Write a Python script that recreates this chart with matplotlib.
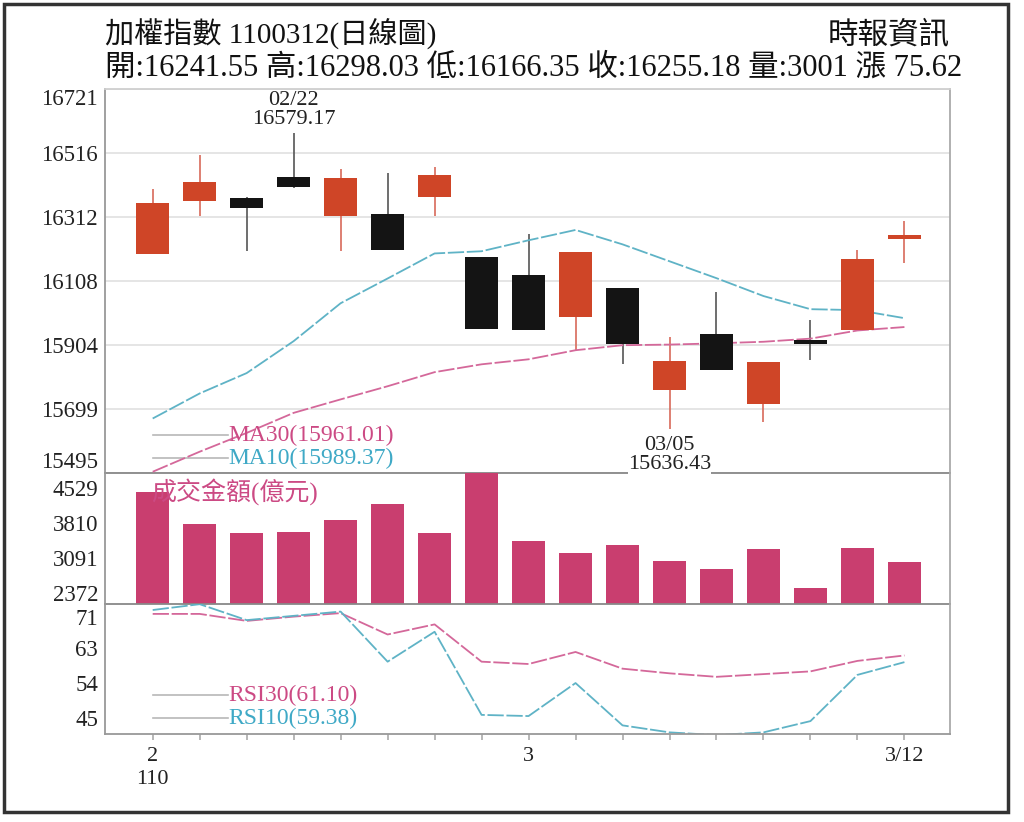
import matplotlib
matplotlib.use("Agg")
import matplotlib.pyplot as plt
from matplotlib.patches import Rectangle

plt.rcParams["font.family"] = ["Liberation Serif", "Noto Sans CJK TC", "DejaVu Sans"]

# 110/02/17 ~ 110/03/12 daily candles
opens = [16195, 16363, 16374, 16440, 16317, 16323, 16376, 16185, 16126, 15993,
         16085, 15760, 15940, 15715, 15919, 15951, 16241.55]
highs = [16402, 16509, 16376, 16579.17, 16465, 16452, 16471, 16185, 16257, 16202,
         16085, 15930, 16073, 15850, 15985, 16208, 16298.03]
lows = [16195, 16314, 16204, 16406, 16204, 16208, 16317, 15956, 15951, 15887,
        15842, 15636.43, 15823, 15658, 15857, 15951, 16166.35]
closes = [16357, 16425, 16340, 16408, 16438, 16208, 16447, 15956, 15951, 16202,
          15906, 15851, 15823, 15850, 15907, 16179.56, 16255.18]

ma10 = [15669, 15749, 15814, 15916, 16037, 16116, 16196, 16203, 16238, 16271,
        16225, 16171, 16117, 16060, 16018, 16015, 15989.37]
ma30 = [15499, 15563, 15623, 15687, 15730, 15772, 15817, 15842, 15858, 15887,
        15903, 15905, 15909, 15914, 15924, 15950, 15961.01]

# 成交金額(億元)
volume = [4448, 3793, 3609, 3629, 3869, 4196, 3609, 4900, 3445, 3187,
          3357, 3036, 2860, 3269, 2484, 3290, 3001]

rsi30 = [71.8, 71.8, 70.0, 71.1, 72.0, 66.5, 69.1, 59.5, 58.9, 62.0,
         57.7, 56.5, 55.6, 56.3, 57.0, 59.7, 61.10]
rsi10 = [72.8, 74.3, 70.2, 71.3, 72.4, 59.5, 67.2, 45.8, 45.5, 54.0,
         43.1, 41.3, 40.6, 41.3, 44.2, 56.1, 59.38]

price_ticks = [15495, 15699, 15904, 16108, 16312, 16516, 16721]
vol_ticks = [2372, 3091, 3810, 4529]
rsi_ticks = [45, 54, 63, 71]
date_labels = {0: "2\n110", 8: "3", 16: "3/12"}

RED = "#cf4527"
BLACK = "#141414"
VOL = "#c93e6f"
CYAN = "#5fb3c6"
PINK = "#d4689a"
PINK_T = "#cc4a84"
CYAN_T = "#3fa9c6"
LEG = "#b8b8b8"

W, H = 1024, 822
fig = plt.figure(figsize=(W / 100, H / 100), dpi=100)


def px_axes(left, top, right, bottom):
    return fig.add_axes([left / W, 1 - bottom / H, (right - left) / W, (bottom - top) / H])


ax_p = px_axes(105, 89, 950, 473)
ax_v = px_axes(105, 473, 950, 604)
ax_r = px_axes(105, 604, 950, 734)

n = len(opens)
xs = list(range(n))
for ax in (ax_p, ax_v, ax_r):
    ax.set_xlim(-1.015, n - 0.03)
    ax.set_facecolor("none")
    ax.tick_params(axis="y", length=0, pad=5, labelsize=16.5, labelcolor="#222")
    ax.spines["left"].set_color("#999")
    ax.spines["right"].set_color("#aaa")
    ax.spines["top"].set_color("#cfcfcf")
    ax.spines["bottom"].set_color("#888")
    for s in ax.spines.values():
        s.set_linewidth(1.3)

# --- price panel
ax_p.set_ylim(15495, 16721)
ax_p.set_yticks(price_ticks)
ax_p.set_xticks([])
ax_p.grid(axis="y", color="#e3e3e3", lw=1.3)
ax_p.set_axisbelow(True)
lbls = ax_p.get_yticklabels()
lbls[0].set_va("bottom")
lbls[-1].set_va("top")

up = [c >= o for o, c in zip(opens, closes)]
body_bot = [min(o, c) for o, c in zip(opens, closes)]
body_h = [max(abs(c - o), 10) for o, c in zip(opens, closes)]
body_col = [RED if u else BLACK for u in up]
wick_col = ["#d86a5a" if u else "#555555" for u in up]
ax_p.vlines(xs, lows, highs, colors=wick_col, lw=1.2, zorder=2)
ax_p.bar(xs, body_h, bottom=body_bot, width=0.7, color=body_col, zorder=3)

ax_p.plot(xs, ma10, color=CYAN, lw=1.3, dashes=(9, 1.5), zorder=2.6)
ax_p.plot(xs, ma30, color=PINK, lw=1.3, dashes=(9, 1.5), zorder=2.6)

tr = ax_p.get_xaxis_transform()
for yy, txt, col in [(0.099, "MA30(15961.01)", PINK_T), (0.039, "MA10(15989.37)", CYAN_T)]:
    ax_p.plot([0, 1.6], [yy, yy], transform=tr, color=LEG, lw=1.2)
    ax_p.text(1.6, yy, txt, transform=tr, color=col, fontsize=17, va="center", ha="left")

ax_p.annotate("02/22\n16579.17", xy=(3, 16579.17), xytext=(0, 4), textcoords="offset pixels",
              ha="center", va="bottom", fontsize=16, linespacing=1.05, color="#222")
ax_p.annotate("03/05\n15636.43", xy=(11, 15636.43), xytext=(0, -7), textcoords="offset pixels",
              ha="center", va="top", fontsize=16, linespacing=1.05, color="#222", zorder=6,
              annotation_clip=False,
              bbox=dict(facecolor="white", edgecolor="none", pad=0))

# --- volume panel
ax_v.bar(xs, volume, width=0.7, color=VOL, zorder=2)
ax_v.set_ylim(2150, 4830)
ax_v.set_yticks(vol_ticks)
ax_v.set_xticks([])
ax_v.spines["top"].set_visible(False)
ax_v.text(-0.03, 0.857, "成交金額(億元)", transform=ax_v.get_xaxis_transform(),
          color=PINK_T, fontsize=18, va="center", ha="left", zorder=5)

# --- RSI panel
ax_r.plot(xs, rsi30, color=PINK, lw=1.3, dashes=(9, 1.5))
ax_r.plot(xs, rsi10, color=CYAN, lw=1.3, dashes=(9, 1.5))
ax_r.set_ylim(40.88, 74.35)
ax_r.set_yticks(rsi_ticks)
ax_r.spines["top"].set_visible(False)
ax_r.spines["bottom"].set_color("#999")
ax_r.set_xticks(xs)
ax_r.set_xticklabels([date_labels.get(i, "") for i in xs], fontsize=16, color="#222",
                     linespacing=1.3, va="top")
ax_r.tick_params(axis="x", length=4, width=1.2, color="#aaa", pad=5)
tr = ax_r.get_xaxis_transform()
for yy, txt, col in [(0.30, "RSI30(61.10)", PINK_T), (0.123, "RSI10(59.38)", CYAN_T)]:
    ax_r.plot([0, 1.6], [yy, yy], transform=tr, color=LEG, lw=1.2)
    ax_r.text(1.6, yy, txt, transform=tr, color=col, fontsize=17, va="center", ha="left")

# --- header
fig.text(105 / W, 1 - 33 / H, "加權指數 1100312(日線圖)", fontsize=21, va="center", ha="left",
         color="#111")
fig.text(950 / W, 1 - 37 / H, "時報資訊", fontsize=22, va="center", ha="right", color="#111")
fig.text(105 / W, 1 - 68 / H, "開:16241.55 高:16298.03 低:16166.35 收:16255.18 量:3001 漲 75.62",
         fontsize=22, va="center", ha="left", color="#111")

fig.patches.append(Rectangle((4 / W, 1 - 812 / H), 1004 / W, 808 / H, transform=fig.transFigure,
                             fill=False, edgecolor="#333", lw=2.5))

fig.savefig("out.png", dpi=100)
